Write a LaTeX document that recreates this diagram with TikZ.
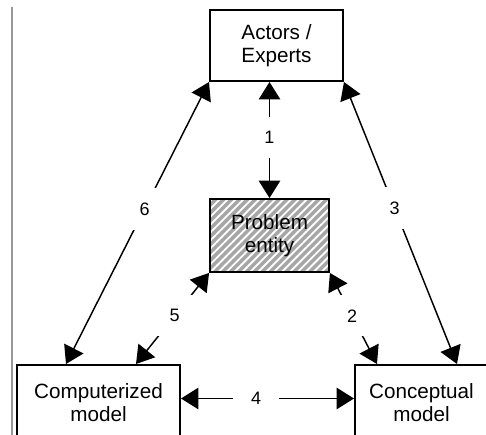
\documentclass[tikz,border=0pt]{standalone}
\usepackage{fontspec}
\setmainfont{Liberation Sans}
\usetikzlibrary{arrows.meta,patterns.meta}
\begin{document}
\begin{tikzpicture}[x=0.75pt,y=-0.75pt,
  box/.style={draw=black,line width=1.5pt,inner sep=0pt,align=center,
    font=\fontsize{15.5}{17.25}\selectfont},
  arr/.style={line width=1.1pt,
    {Triangle[length=13pt,width=16pt]}-{Triangle[length=13pt,width=16pt]}},
  lbl/.style={fill=white,inner sep=0pt,minimum width=35pt,minimum height=31pt,
    font=\fontsize{13.5}{16}\selectfont}]
\useasboundingbox (0,0) rectangle (486,435);
\clip (0,0) rectangle (486,435);
\fill[white] (0,0) rectangle (486,435);
\draw[black!40, line width=2pt] (12,7) -- (12,440);
\node[box, minimum width=133*0.75pt, minimum height=71*0.75pt] (act) at (276.5,45.5) {Actors /\\Experts};
\node[box, minimum width=119*0.75pt, minimum height=73*0.75pt,
  preaction={fill=black!35},
  pattern={Lines[angle=45,distance=4.2pt,line width=1.4pt]}, pattern color=white] (prob) at (269.5,235.5) {Problem\\entity};
\node[box, minimum width=163*0.75pt, minimum height=75*0.75pt] (comp) at (98.5,402.5) {Computerized\\model};
\node[box, minimum width=133*0.75pt, minimum height=75*0.75pt] (conc) at (421.5,402.5) {Conceptual\\model};
% 1
\draw[arr] (act.south -| prob.north) -- node[lbl,pos=0.48]{1} (prob.north);
% 6
\draw[arr] ([xshift=50*0.75pt]comp.north west) -- node[lbl,pos=0.55]{6} (act.south west);
% 3
\draw[arr] (act.south east) -- node[lbl,pos=0.447]{3} ([xshift=103*0.75pt]conc.north west);
% 5
\draw[arr] (prob.south west) -- node[lbl,pos=0.47]{5} ([xshift=120*0.75pt]comp.north west);
% 2
\draw[arr] (prob.south east) -- node[lbl,pos=0.47]{2} ([xshift=23*0.75pt]conc.north west);
% 4
\draw[arr] ([yshift=4*0.75pt]comp.east) -- node[lbl,pos=0.434]{4} ([yshift=4*0.75pt]conc.west);
\end{tikzpicture}
\end{document}
